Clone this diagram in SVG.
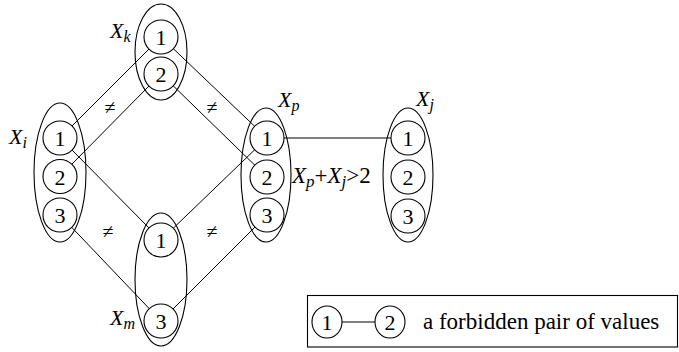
<svg xmlns="http://www.w3.org/2000/svg" width="679" height="352" viewBox="0 0 679 352">
<style>
.e{fill:none;stroke:#000;stroke-width:1.1}
.c{fill:#fff;stroke:#000;stroke-width:1.1}
.l{stroke:#000;stroke-width:1;fill:none}
</style>
<rect width="679" height="352" fill="#fff"/>
<g font-family="'Liberation Serif', 'Times New Roman', serif" font-size="22" fill="#000">
<g id="connectors">
<line class="l" x1="149" y1="49" x2="72" y2="126"/>
<line class="l" x1="149" y1="86" x2="72" y2="164"/>
<line class="l" x1="173.3" y1="48.7" x2="254.7" y2="126.3"/>
<line class="l" x1="173.2" y1="85.8" x2="254.8" y2="165.2"/>
<line class="l" x1="72" y1="150" x2="149" y2="228"/>
<line class="l" x1="71.7" y1="227.3" x2="149.3" y2="308.7"/>
<line class="l" x1="254.7" y1="149.8" x2="173.3" y2="228.2"/>
<line class="l" x1="255" y1="227" x2="173" y2="309"/>
<line class="l" x1="284" y1="138" x2="391" y2="138"/>
<g font-size="20" text-anchor="middle">
<text x="110" y="114">≠</text>
<text x="212" y="114">≠</text>
<text x="108" y="238">≠</text>
<text x="212" y="238">≠</text>
</g>
</g>
<g id="Xk">
<ellipse class="e" cx="161" cy="52" rx="26" ry="48"/>
<circle class="c" cx="161" cy="37" r="17"/>
<circle class="c" cx="161" cy="74" r="17"/>
<text text-anchor="middle" x="161" y="45">1</text>
<text text-anchor="middle" x="161" y="82">2</text>
<text font-style="italic" x="110" y="38">X<tspan font-size="16" dy="4">k</tspan></text>
</g>
<g id="Xi">
<ellipse class="e" cx="60" cy="172.5" rx="26" ry="69.5"/>
<circle class="c" cx="60" cy="138" r="17"/>
<circle class="c" cx="60" cy="176.5" r="17"/>
<circle class="c" cx="60" cy="215" r="17"/>
<text text-anchor="middle" x="60" y="146">1</text>
<text text-anchor="middle" x="60" y="184.5">2</text>
<text text-anchor="middle" x="60" y="223">3</text>
<text font-style="italic" x="9" y="144">X<tspan font-size="16" dy="4">i</tspan></text>
</g>
<g id="Xp">
<ellipse class="e" cx="266" cy="175" rx="25" ry="67"/>
<circle class="c" cx="267" cy="138" r="17"/>
<circle class="c" cx="267" cy="177" r="17"/>
<circle class="c" cx="267" cy="215" r="17"/>
<text text-anchor="middle" x="267" y="146">1</text>
<text text-anchor="middle" x="267" y="185">2</text>
<text text-anchor="middle" x="267" y="223">3</text>
<text font-style="italic" x="278" y="107">X<tspan font-size="16" dy="4">p</tspan></text>
</g>
<g id="Xj">
<ellipse class="e" cx="408" cy="175" rx="25" ry="67"/>
<circle class="c" cx="408" cy="138" r="17"/>
<circle class="c" cx="408" cy="177" r="17"/>
<circle class="c" cx="408" cy="216" r="17"/>
<text text-anchor="middle" x="408" y="146">1</text>
<text text-anchor="middle" x="408" y="185">2</text>
<text text-anchor="middle" x="408" y="224">3</text>
<text font-style="italic" x="416" y="106">X<tspan font-size="16" dy="4">j</tspan></text>
</g>
<g id="Xm">
<ellipse class="e" cx="161" cy="279.5" rx="26" ry="66.5"/>
<circle class="c" cx="161" cy="240" r="17"/>
<circle class="c" cx="161" cy="321" r="17"/>
<text text-anchor="middle" x="161" y="248">1</text>
<text text-anchor="middle" x="161" y="329">3</text>
<text font-style="italic" x="110" y="325">X<tspan font-size="16" dy="4">m</tspan></text>
</g>
<g id="constraint">
<text font-style="italic" font-size="23" x="292" y="183">X<tspan font-size="17" dy="4">p</tspan><tspan font-style="normal" dy="-4">+</tspan>X<tspan font-size="17" dy="4">j</tspan><tspan font-style="normal" dy="-4">&gt;2</tspan></text>
</g>
<g id="legend">
<rect x="307.5" y="295.5" width="370" height="51.5" fill="none" stroke="#000" stroke-width="1.1"/>
<line class="l" x1="342" y1="322" x2="375" y2="322"/>
<ellipse class="c" cx="327" cy="322" rx="15" ry="16"/>
<ellipse class="c" cx="390" cy="322" rx="15" ry="16"/>
<text text-anchor="middle" x="327" y="330">1</text>
<text text-anchor="middle" x="390" y="330">2</text>
<text x="423" y="329" font-size="23">a forbidden pair of values</text>
</g>
</g>
</svg>
